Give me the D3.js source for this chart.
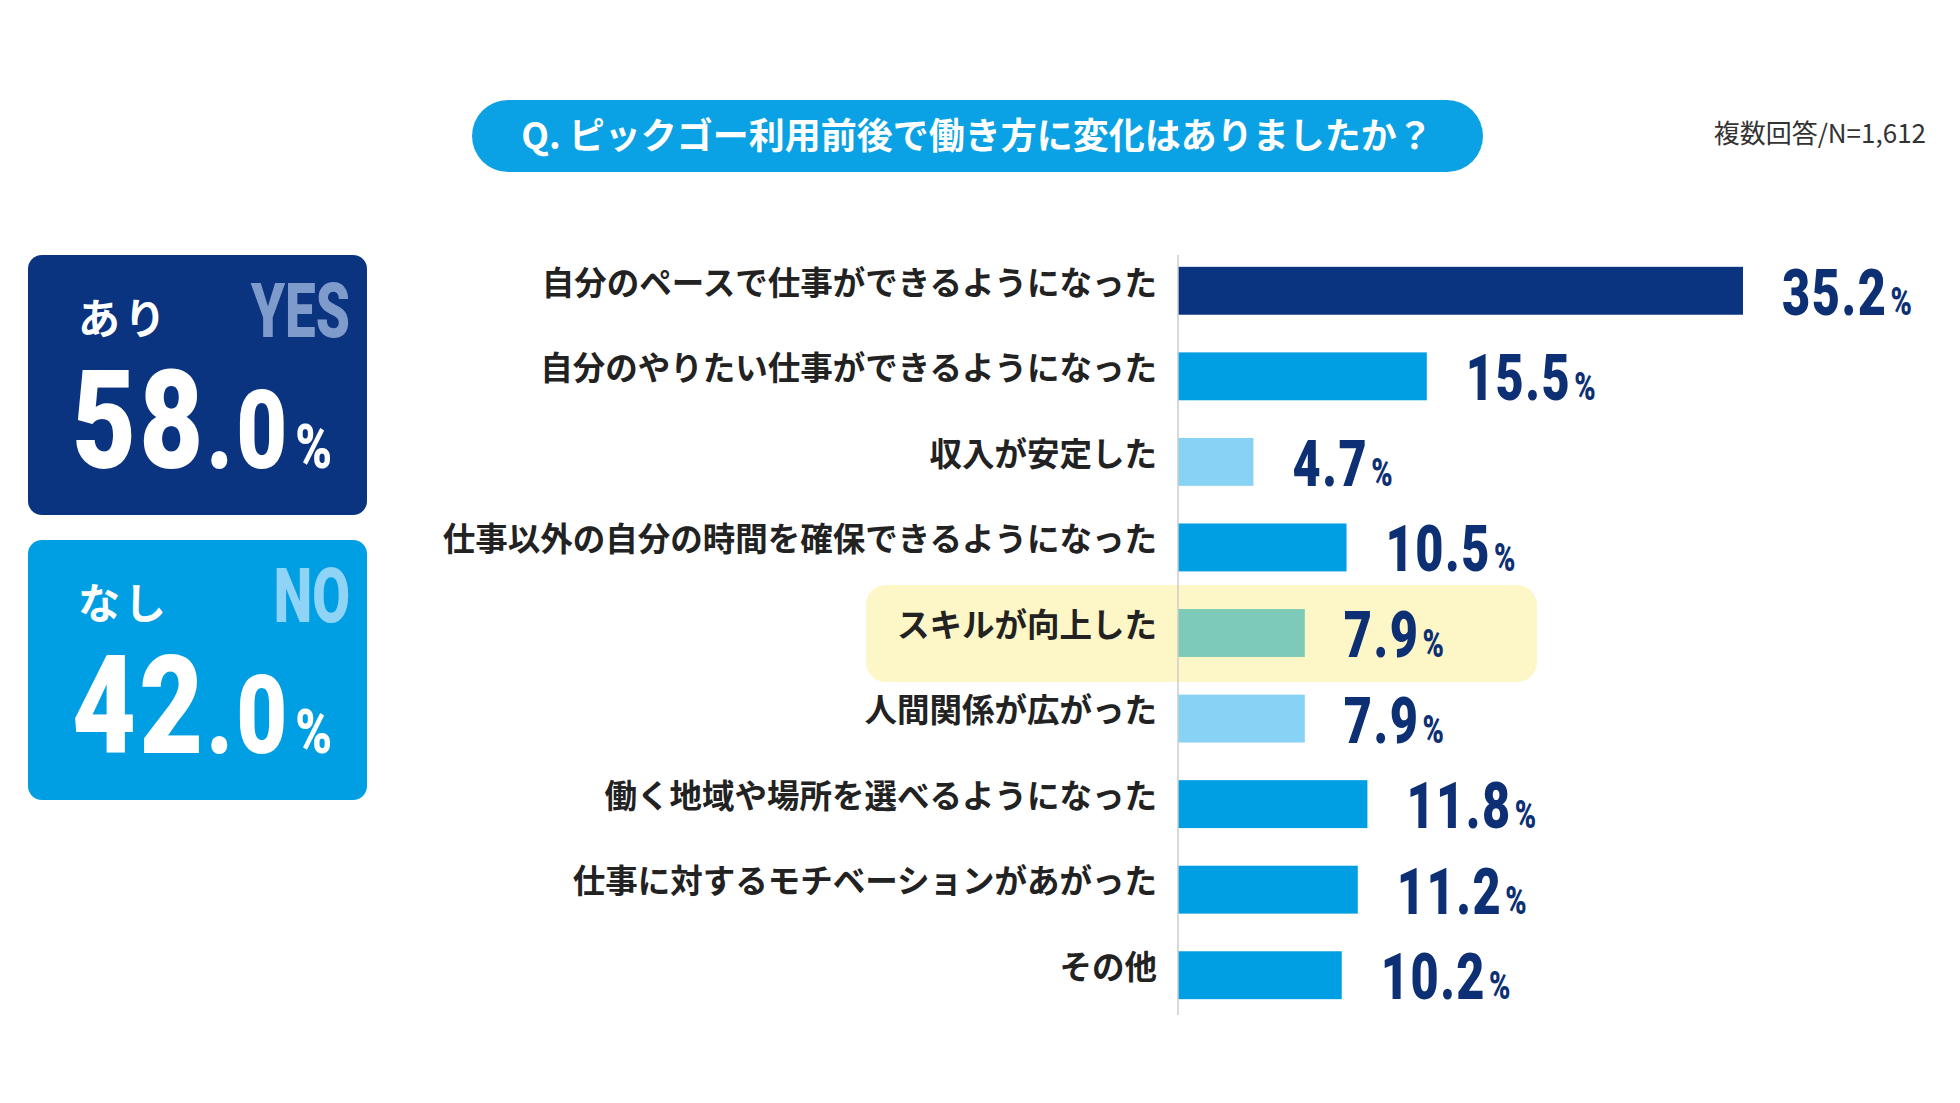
<!DOCTYPE html>
<html><head><meta charset="utf-8">
<script src="https://cdn.jsdelivr.net/npm/d3@7"></script>
<style>body{margin:0;background:#fff}</style></head>
<body><svg id="c" width="1960" height="1103"></svg>
<script>
const categories = ["自分のペースで仕事ができるようになった","自分のやりたい仕事ができるようになった","収入が安定した","仕事以外の自分の時間を確保できるようになった","スキルが向上した","人間関係が広がった","働く地域や場所を選べるようになった","仕事に対するモチベーションがあがった","その他"];
const values = [35.2,15.5,4.7,10.5,7.9,7.9,11.8,11.2,10.2];
const barColors = ["#0a3380","#009fe3","#87d2f5","#009fe3","#7ecab8","#87d2f5","#009fe3","#009fe3","#009fe3"];
const summary = [{jp:"あり",en:"YES",v:"58",d:".0",bg:"#0a3380",en_c:"#7f9bcb"},{jp:"なし",en:"NO",v:"42",d:".0",bg:"#009fe3",en_c:"#8fd3f6"}];
const highlight = 4;

const svg = d3.select("#c");
const JP = "'Noto Sans CJK JP', sans-serif";
const NUM = "'Roboto', sans-serif";

// title
svg.append("rect").attr("x",472).attr("y",100).attr("width",1011).attr("height",72).attr("rx",36).attr("fill","#0aa2e4");
svg.append("text").attr("x",977).attr("y",149).attr("text-anchor","middle").attr("fill","#fff")
  .attr("font-family",JP).attr("font-weight",700).attr("font-size",36).text("Q. ピックゴー利用前後で働き方に変化はありましたか？");
svg.append("text").attr("x",1926).attr("y",143).attr("text-anchor","end").attr("fill","#333")
  .attr("font-family",JP).attr("font-size",26).text("複数回答/N=1,612");

// summary boxes
summary.forEach((s,i)=>{
  const g = svg.append("g").attr("transform",`translate(28,${255+i*285})`);
  g.append("rect").attr("width",339).attr("height",260).attr("rx",14).attr("fill",s.bg);
  g.append("text").attr("x",50).attr("y",79).attr("fill","#fff").attr("font-family",JP).attr("font-weight",700).attr("font-size",42).attr("letter-spacing",4).text(s.jp);
  g.append("text").attr("transform","translate(322,82) scale(0.72,1)").attr("text-anchor","end").attr("fill",s.en_c).attr("font-family",NUM).attr("font-weight",900).attr("font-size",76).text(s.en);
  const t = g.append("text").attr("transform","translate(44,213) scale(0.8,1)").attr("fill","#fff").attr("font-family",NUM).attr("font-weight",900);
  t.append("tspan").attr("font-size",138).attr("letter-spacing",4).text(s.v);
  t.append("tspan").attr("font-size",110).attr("letter-spacing",4).text(s.d);
  t.append("tspan").attr("font-size",62).attr("dx",6).text("%");
});

// bars
const x0 = 1178;
const x = d3.scaleLinear().domain([0,35.2]).range([x0,1743]);
const y = d3.scaleBand().domain(categories).range([248,1018]).paddingInner(0.44).paddingOuter(0.22);

const hy = y(categories[highlight]) + y.bandwidth()/2;
svg.append("rect").attr("x",866).attr("y",hy-48).attr("width",671).attr("height",97).attr("rx",20).attr("fill","#fdf6c6");

svg.selectAll("rect.bar").data(values).join("rect").attr("class","bar")
  .attr("x",x0).attr("y",(d,i)=>y(categories[i])).attr("height",y.bandwidth())
  .attr("width",d=>x(d)-x0).attr("fill",(d,i)=>barColors[i]);

svg.append("line").attr("x1",x0).attr("x2",x0).attr("y1",255).attr("y2",1015).attr("stroke","#ccc").attr("stroke-width",1.5);

svg.selectAll("text.cat").data(categories).join("text").attr("class","cat")
  .attr("x",1157).attr("y",d=>y(d)+y.bandwidth()/2-5).attr("text-anchor","end").attr("dominant-baseline","middle")
  .attr("font-family",JP).attr("font-weight",700).attr("font-size",32.5).attr("fill","#222").text(d=>d);

const vt = svg.selectAll("text.val").data(values).join("text").attr("class","val")
  .attr("transform",(d,i)=>`translate(${x(d)+39},${y(categories[i])+y.bandwidth()/2+24}) scale(0.76,1)`)
  .attr("font-family",NUM).attr("font-weight",900).attr("fill","#0d2f73");
vt.append("tspan").attr("font-size",64).attr("letter-spacing",2).text(d=>d.toFixed(1));
vt.append("tspan").attr("font-size",38).attr("dx",4).text("%");
</script></body></html>
